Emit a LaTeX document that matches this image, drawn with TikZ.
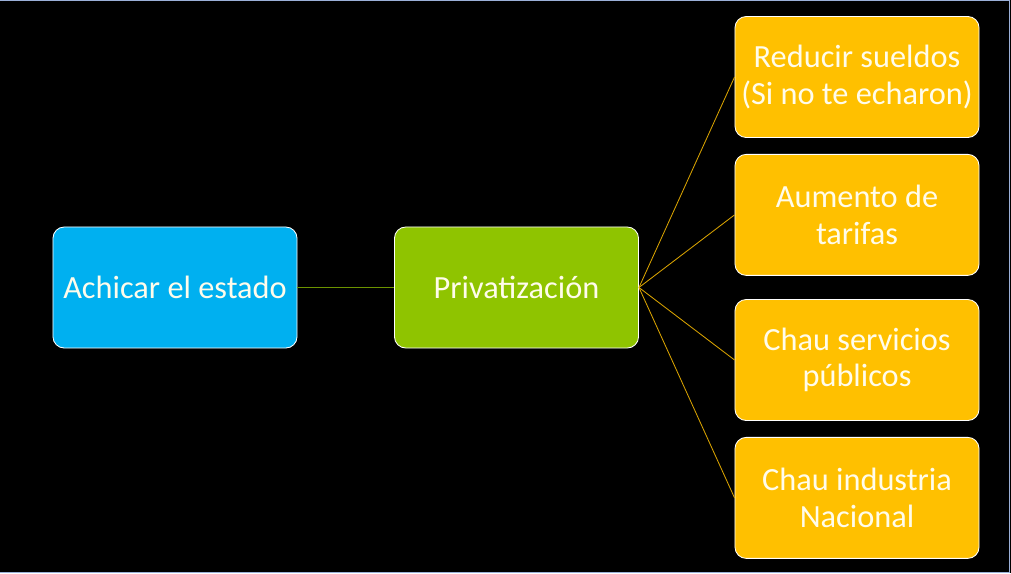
\documentclass[tikz,border=0pt]{standalone}
\usepackage{fontspec}
\setmainfont{Carlito}
\usepackage{tikz}
\usetikzlibrary{positioning, calc}
\definecolor{cBlue}{RGB}{0,176,240}
\definecolor{cGreen}{RGB}{143,196,0}
\definecolor{cGold}{RGB}{255,192,0}
\definecolor{cFrame}{RGB}{155,176,216}
\definecolor{cText}{RGB}{255,252,235}
\tikzset{
	mainbox/.style={rectangle, rounded corners=8pt, minimum width=6.1cm, minimum height=3.025cm, text centered, align=center, draw=white, line width=0.6pt, fill=cBlue, text=cText, font=\fontsize{23}{25.8}\selectfont},
	midbox/.style ={mainbox, fill=cGreen},
	leafbox/.style={mainbox, fill=cGold},
	link/.style   ={draw=cGold!85!black, line width=0.6pt},
	stem/.style   ={draw=cGreen!75!black, line width=0.9pt},
}
\begin{document}
\begin{tikzpicture}[x=0.025cm, y=-0.025cm]
	\fill[black] (0,0) rectangle (1011,573);
	\useasboundingbox (0,0) rectangle (1011,573);
	% thin window frame
	\draw[cFrame, line width=1.2pt] (0,0.5) -- (1009.5,0.5) -- (1009.5,572.5) -- (0,572.5);
	\node[mainbox] (estado) at (175,287.5) {Achicar el estado};
	\node[midbox] (priv) at (516.5,287.5) {Privatización};
	\node[leafbox] (sueldos) at (857,77) {Reducir sueldos\\(Si no te echaron)};
	\node[leafbox, below=0.4cm of sueldos] (tarifas) {Aumento de\\tarifas};
	\node[leafbox] (servicios) at (857,360) {Chau servicios\\públicos};
	\node[leafbox, below=0.4cm of servicios] (industria) {Chau industria\\Nacional};
	% connectors
	\draw[stem] (estado.east) -- (priv.west);
	\foreach \leaf in {sueldos, tarifas, servicios, industria}
		\draw[link] (priv.east) -- (\leaf.west);
\end{tikzpicture}
\end{document}
